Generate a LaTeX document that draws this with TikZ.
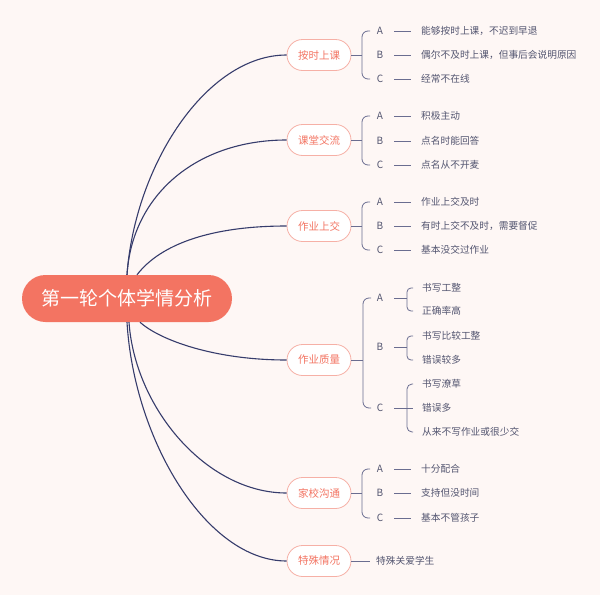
\documentclass[tikz,border=0pt]{standalone}
\usepackage{fontspec}
\setmainfont{Noto Sans CJK SC}
\definecolor{bgpink}{HTML}{FEF7F5}
\definecolor{salmon}{HTML}{F37462}
\definecolor{salmonline}{HTML}{F6B0A6}
\definecolor{navy}{HTML}{363C6C}
\definecolor{braceline}{HTML}{6A6D90}
\definecolor{inkgray}{HTML}{535570}

\begin{document}
\begin{tikzpicture}[x=1pt,y=-1pt,
    root/.style={fill=salmon, text=white, rounded corners=23.5pt, minimum width=210pt, minimum height=47pt, inner sep=0pt, font=\fontsize{19}{23}\selectfont},
    topic/.style={draw=salmonline, line width=0.8pt, fill=white, text=salmon, rounded corners=15.5pt, minimum width=64pt, minimum height=31pt, inner sep=0pt, font=\fontsize{10.5}{13}\selectfont},
    letter/.style={text=inkgray, inner sep=1pt, font=\fontsize{10}{12}\selectfont},
    item/.style={text=inkgray, anchor=west, inner sep=0pt, font=\fontsize{9.7}{12}\selectfont},
    branch/.style={draw=navy, line width=1.1pt},
    brace/.style={draw=braceline, line width=0.8pt, rounded corners=6pt},
    tick/.style={draw=braceline, line width=0.8pt}]
      \fill[white]  (0,0) rectangle (606,600);
      \fill[bgpink] (0,0) rectangle (600,595);
      \useasboundingbox (0,0) rectangle (606,600);

      \node[root]  (root) at (127,298.5) {第一轮个体学情分析};
      \node[topic] (k1) at (319,55)  {按时上课};
      \node[topic] (k2) at (319,140) {课堂交流};
      \node[topic] (k3) at (319,226) {作业上交};
      \node[topic] (k4) at (319,360) {作业质量};
      \node[topic] (k5) at (319,493) {家校沟通};
      \node[topic] (k6) at (319,561) {特殊情况};

      \draw[branch] (root.north) .. controls +(8,-110) and +(-80,0) .. (k1.west);
      \draw[branch] (root.north) .. controls +(5,-80) and +(-90,0) .. (k2.west);
      \draw[branch] ([xshift=10pt]root.north) .. controls +(23,-30) and +(-77,0) .. (k3.west);
      \draw[branch] ([xshift=13pt]root.south) .. controls +(20,18) and +(-72,0) .. (k4.west);
      \draw[branch] ([xshift=2pt]root.south) .. controls +(6,86) and +(-80,0) .. (k5.west);
      \draw[branch] (root.south) .. controls +(7,118) and +(-80,0) .. (k6.west);

      \coordinate (b1) at (362,55);
      \draw[brace] (370,31) -- (362,31) -- (362,79) -- (370,79);
      \draw[tick] (k1.east) -- (b1);
      \foreach \l/\y/\t in {A/31/能够按时上课，不迟到早退, B/55/偶尔不及时上课，但事后会说明原因, C/79/经常不在线} {
        \node[letter] (k1\l) at (380,\y) {\l};
        \node[item] (k1\l txt) at (421,\y) {\t};
        \draw[tick] ([xshift=10pt]k1\l.east) -- ([xshift=-10pt]k1\l txt.west);
      }

      \coordinate (b2) at (362,140);
      \draw[brace] (370,116) -- (362,116) -- (362,165) -- (370,165);
      \draw[tick] (k2.east) -- (b2);
      \foreach \l/\y/\t in {A/116/积极主动, B/141/点名时能回答, C/165/点名从不开麦} {
        \node[letter] (k2\l) at (380,\y) {\l};
        \node[item] (k2\l txt) at (421,\y) {\t};
        \draw[tick] ([xshift=10pt]k2\l.east) -- ([xshift=-10pt]k2\l txt.west);
      }

      \coordinate (b3) at (362,226);
      \draw[brace] (370,202) -- (362,202) -- (362,250) -- (370,250);
      \draw[tick] (k3.east) -- (b3);
      \foreach \l/\y/\t in {A/202/作业上交及时, B/226/有时上交不及时，需要督促, C/250/基本没交过作业} {
        \node[letter] (k3\l) at (380,\y) {\l};
        \node[item] (k3\l txt) at (421,\y) {\t};
        \draw[tick] ([xshift=10pt]k3\l.east) -- ([xshift=-10pt]k3\l txt.west);
      }

      \coordinate (b4) at (363,360);
      \draw[brace] (371,298) -- (363,298) -- (363,408) -- (371,408);
      \draw[tick] (k4.east) -- (b4);
      \node[letter] (k4A) at (380,298) {A};
      \node[letter] (k4B) at (380,347) {B};
      \node[letter] (k4C) at (380,408) {C};
      \node[item] (k4A1) at (422,288) {书写工整};
      \node[item] (k4A2) at (422,311) {正确率高};
      \node[item] (k4B1) at (422,336) {书写比较工整};
      \node[item] (k4B2) at (422,360) {错误较多};
      \node[item] (k4C1) at (422,384) {书写潦草};
      \node[item] (k4C2) at (422,408) {错误多};
      \node[item] (k4C3) at (422,432) {从来不写作业或很少交};
      \draw[brace, rounded corners=4pt] (413,288) -- (407,288) -- (407,311) -- (413,311);
      \draw[brace, rounded corners=4pt] (413,336) -- (407,336) -- (407,360) -- (413,360);
      \draw[brace, rounded corners=5pt] (413,384) -- (407,384) -- (407,432) -- (413,432);
      \draw[tick] ([xshift=10pt]k4A.east) -- (407,298);
      \draw[tick] ([xshift=10pt]k4B.east) -- (407,347);
      \draw[tick] ([xshift=10pt]k4C.east) -- ([xshift=-9pt]k4C2.west);

      \coordinate (b5) at (362,493);
      \draw[brace] (370,469) -- (362,469) -- (362,518) -- (370,518);
      \draw[tick] (k5.east) -- (b5);
      \foreach \l/\y/\t in {A/469/十分配合, B/493/支持但没时间, C/518/基本不管孩子} {
        \node[letter] (k5\l) at (380,\y) {\l};
        \node[item] (k5\l txt) at (421,\y) {\t};
        \draw[tick] ([xshift=10pt]k5\l.east) -- ([xshift=-10pt]k5\l txt.west);
      }

      \node[item] (k6txt) at (376,561) {特殊关爱学生};
      \draw[tick] (k6.east) -- ([xshift=-6pt]k6txt.west);
\end{tikzpicture}
\end{document}
